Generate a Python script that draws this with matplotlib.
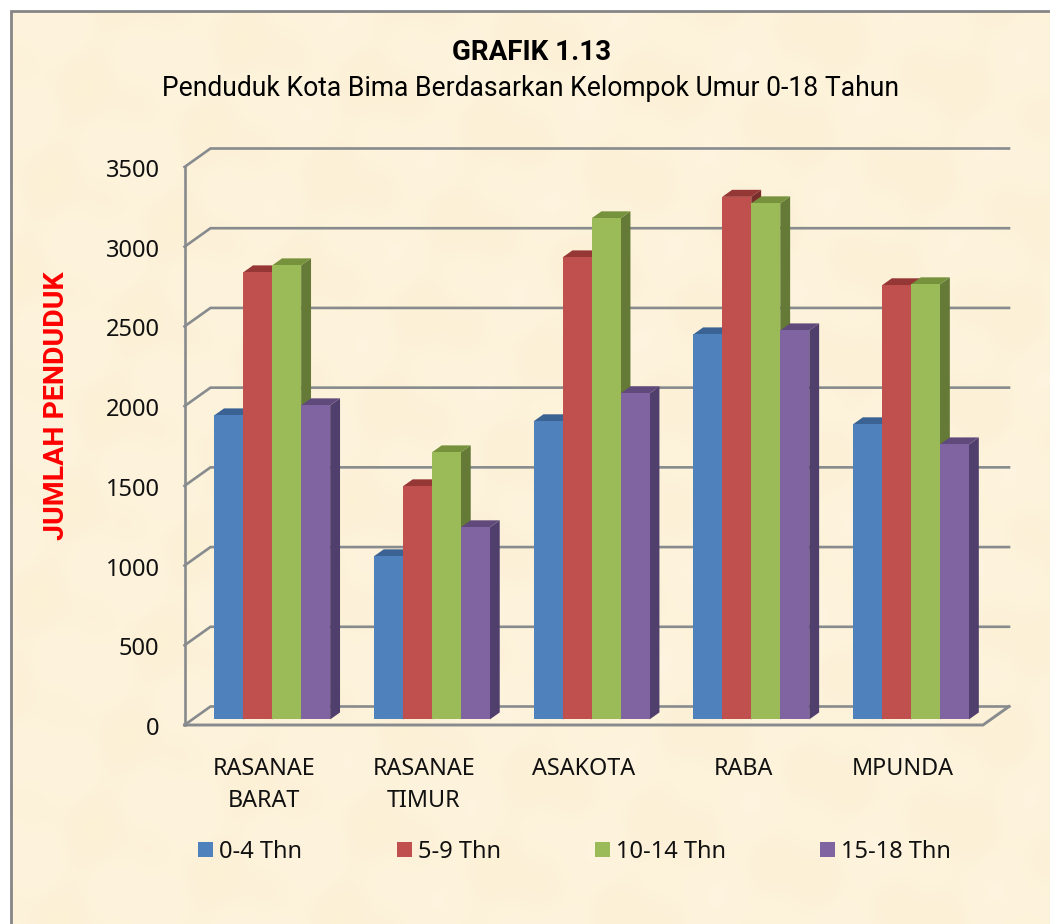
import numpy as np
import matplotlib
matplotlib.use('Agg')
import matplotlib.pyplot as plt
from matplotlib.patches import Polygon, Rectangle
from matplotlib.transforms import ScaledTranslation

# Data
categories = ['RASANAE\nBARAT', 'RASANAE\nTIMUR', 'ASAKOTA', 'RABA', 'MPUNDA']
series_names = ['0-4 Thn', '5-9 Thn', '10-14 Thn', '15-18 Thn']
age_0_4 = [1907, 1023, 1870, 2415, 1851]
age_5_9 = [2804, 1462, 2898, 3278, 2723]
age_10_14 = [2848, 1675, 3143, 3237, 2729]
age_15_18 = [1970, 1205, 2045, 2440, 1725]
y_ticks = [0, 500, 1000, 1500, 2000, 2500, 3000, 3500]

front_colors = ['#4F81BD', '#C0504D', '#9BBB59', '#8064A2']
top_colors = ['#3A6393', '#953735', '#76923C', '#604A7B']
side_colors = ['#2F5078', '#7A2E2C', '#647A36', '#503F6C']
legend_x = [198, 397, 595, 820]

W, H = 1050, 924
fig = plt.figure(figsize=(W / 100, H / 100), dpi=100, facecolor='white')

# Parchment background inside the grey frame
bg = fig.add_axes([0, 0, 1, 1], zorder=0)
bg.axis('off')
yy, xx = np.mgrid[0:H:3, 0:W:3]
mottle = (np.sin(xx / 23 + yy / 61) + np.sin(xx / 47 - yy / 17 + 1.3)
          + np.sin(xx / 11 + yy / 31 + 2.1) * 0.5)
tex = np.zeros(xx.shape + (3,))
tex[..., 0] = (253 + mottle * 0.3) / 255
tex[..., 1] = (242 + mottle * 0.7) / 255
tex[..., 2] = (218 + mottle * 1.8) / 255
bg.imshow(np.clip(tex, 0, 1), extent=[10, W, H, 11], aspect='auto',
          interpolation='bilinear')
bg.plot([10.5, 10.5, W], [H, 11, 11], color='#868686', lw=2.0, solid_joinstyle='miter')
bg.set_xlim(0, W)
bg.set_ylim(H, 0)

# Chart axes: front plane of the 3D box
left, right, base, top = 184.5, 983.0, 725.0, 167.0
ax = fig.add_axes([left / W, 1 - base / H, (right - left) / W, (base - top) / H],
                  zorder=1)
ax.set_xlim(0, 5)
ax.set_ylim(0, 3500)
ax.patch.set_alpha(0)
for s in ax.spines.values():
    s.set_visible(False)

depth_x = 26.0 / ((right - left) / 5)
depth_y = 18.5 / ((base - top) / 3500)

grid_color = '#888B8E'
for v in y_ticks:
    ax.plot([0, depth_x, 5 + depth_x], [v, v + depth_y, v + depth_y], color=grid_color,
            lw=1.9, clip_on=False, zorder=1, solid_joinstyle='miter')
ax.plot([0, 0], [0, 3500], color=grid_color, lw=1.9, clip_on=False, zorder=1)
ax.plot([0, 5, 5 + depth_x], [0, 0, depth_y], color=grid_color, lw=2.1,
        clip_on=False, zorder=1, solid_joinstyle='miter')

# 3D bars
bar_w = 29.0 / ((right - left) / 5)
d0, d1 = 0.30, 0.68
all_series = [age_0_4, age_5_9, age_10_14, age_15_18]
z = 2
for c in range(len(categories)):
    for i, vals in enumerate(all_series):
        x0 = c + 0.5 - 2 * bar_w + i * bar_w + d0 * depth_x
        y0 = d0 * depth_y
        v = vals[c]
        ox, oy = (d1 - d0) * depth_x, (d1 - d0) * depth_y
        ax.add_patch(Polygon([(x0 + bar_w, y0), (x0 + bar_w + ox, y0 + oy),
                              (x0 + bar_w + ox, y0 + oy + v), (x0 + bar_w, y0 + v)],
                             fc=side_colors[i], ec='none', zorder=z, clip_on=False))
        ax.add_patch(Polygon([(x0, y0 + v), (x0 + ox, y0 + oy + v),
                              (x0 + bar_w + ox, y0 + oy + v), (x0 + bar_w, y0 + v)],
                             fc=top_colors[i], ec='none', zorder=z, clip_on=False))
        ax.bar(x0, v, bar_w, bottom=y0, align='edge', color=front_colors[i], zorder=z + 1,
               clip_on=False)
        z += 2

label_font = ['Noto Sans', 'DejaVu Sans']
ax.set_yticks(y_ticks)
ax.set_xticks([0.5, 1.5, 2.5, 3.5, 4.5])
ax.set_xticklabels(categories, fontsize=16.8, family=label_font, color='#111111',
                   linespacing=1.42)
ax.tick_params(axis='x', length=0, pad=23)
ax.tick_params(axis='y', length=0, pad=18)
# labels sit about 4 px lower than their tick in the original
label_shift = ScaledTranslation(0, -4 / 100, fig.dpi_scale_trans)
for t in ax.get_yticklabels():
    t.set_fontsize(17)
    t.set_family(label_font)
    t.set_color('#111111')
    t.set_verticalalignment('center')
    t.set_transform(t.get_transform() + label_shift)

# Titles
narrow = ['Roboto', 'Liberation Sans', 'DejaVu Sans']
bg.text(531.5, 53, 'GRAFIK 1.13', fontsize=20, fontweight='bold', family=narrow,
        ha='center', va='center', color='black')
bg.text(531, 88.5, 'Penduduk Kota Bima Berdasarkan Kelompok Umur 0-18 Tahun',
        fontsize=19.1, family=narrow, ha='center', va='center', color='black')
bg.text(56.5, 406, 'JUMLAH PENDUDUK', fontsize=20.5, fontweight='bold', family=narrow,
        rotation=90, ha='center', va='center', color='#FF0000')

# Legend
for name, col, lx in zip(series_names, front_colors, legend_x):
    bg.add_patch(Rectangle((lx, 842), 15, 15, fc=col, ec='none'))
    bg.text(lx + 21, 851.5, name, fontsize=17, family=label_font, ha='left', va='center',
            color='#111111')

fig.savefig('out.png', dpi=100)
